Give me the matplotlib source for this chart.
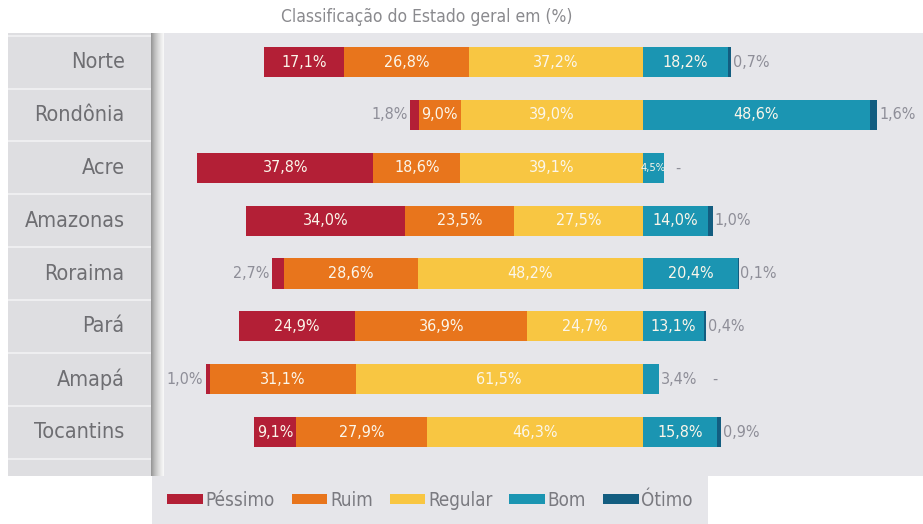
import numpy as np
import matplotlib.pyplot as plt
from matplotlib.patches import Patch, Rectangle

regioes = ['Norte', 'Rondônia', 'Acre', 'Amazonas', 'Roraima', 'Pará', 'Amapá', 'Tocantins']
pessimo = [17.1, 1.8, 37.8, 34.0, 2.7, 24.9, 1.0, 9.1]
ruim = [26.8, 9.0, 18.6, 23.5, 28.6, 36.9, 31.1, 27.9]
regular = [37.2, 39.0, 39.1, 27.5, 48.2, 24.7, 61.5, 46.3]
bom = [18.2, 48.6, 4.5, 14.0, 20.4, 13.1, 3.4, 15.8]
otimo = [0.7, 1.6, 0.0, 1.0, 0.1, 0.4, 0.0, 0.9]

categorias = ['Péssimo', 'Ruim', 'Regular', 'Bom', 'Ótimo']
cores = ['#b31f36', '#e8751c', '#f8c642', '#1b95b2', '#135d80']

FONTE = ['Liberation Sans Narrow', 'DejaVu Sans']
plt.rcParams['font.family'] = FONTE
plt.rcParams['font.stretch'] = 'condensed'

W, H = 923, 524


def caixa(x0, y0, x1, y1):  # pixels -> fracao da figura
    return [x0 / W, 1 - y1 / H, (x1 - x0) / W, (y1 - y0) / H]


def fmt(v):
    return ('%.1f%%' % v).replace('.', ',')


fig = plt.figure(figsize=(W / 100, H / 100), dpi=100)
fig.patch.set_facecolor('white')

# fundos
for (x0, y0, x1, y1, c) in [(155, 33, 923, 476, '#e6e6ea'),
                            (8, 33, 152, 476, '#dedee1'),
                            (152, 476, 708, 524, '#e6e6ea')]:
    b = caixa(x0, y0, x1, y1)
    fig.patches.append(Rectangle((b[0], b[1]), b[2], b[3], transform=fig.transFigure,
                                 facecolor=c, edgecolor='none', zorder=-5))

y = np.arange(len(regioes))
ylim = (7.83, -0.55)

# painel dos nomes
ax_lab = fig.add_axes(caixa(8, 33, 152, 476))
ax_lab.set_axis_off()
ax_lab.set_xlim(0, 1)
ax_lab.set_ylim(*ylim)
for i in range(len(regioes) + 1):
    ax_lab.axhline(i - 0.5, color='#eeeef0', lw=1.5)
for i, nome in enumerate(regioes):
    ax_lab.text(0.81, i, nome, ha='right', va='center', fontsize=15.5, color='#6e6e72')

# sombra vertical
ax_s = fig.add_axes(caixa(151, 33, 164, 476))
ax_s.set_axis_off()
grad = np.linspace(0, 1, 50).reshape(1, -1)
ax_s.imshow(grad, aspect='auto', cmap='Greys_r', vmin=-1.1, vmax=1.12,
            extent=(0, 1, 0, 1))

# barras
ax = fig.add_axes(caixa(160, 33, 923, 476))
ax.set_axis_off()
ax.set_xlim(-103.4, 60)
ax.set_ylim(*ylim)

reg = np.array(regular)
rui = np.array(ruim)
pes = np.array(pessimo)
bo = np.array(bom)
ot = np.array(otimo)

lefts = [-(reg + rui + pes), -(reg + rui), -reg, np.zeros(len(y)), bo]
vals = [pes, rui, reg, bo, ot]
h = 0.57
for k in range(5):
    ax.barh(y, vals[k], left=lefts[k], height=h, color=cores[k], edgecolor='none')

branco = '#fbf6ea'
cinza = '#8e8e98'
fs = 11.5
for i in y:
    # pessimo
    if pes[i] < 5:
        ax.text(lefts[0][i] - 0.5, i, fmt(pes[i]), ha='right', va='center',
                fontsize=fs, color=cinza)
    else:
        ax.text(lefts[0][i] + pes[i] / 2, i, fmt(pes[i]), ha='center', va='center',
                fontsize=fs, color=branco)
    ax.text(lefts[1][i] + rui[i] / 2, i, fmt(rui[i]), ha='center', va='center',
            fontsize=fs, color=branco)
    ax.text(lefts[2][i] + reg[i] / 2, i, fmt(reg[i]), ha='center', va='center',
            fontsize=fs, color=branco)
    # bom
    fim = bo[i] + ot[i]
    if bo[i] < 4:
        ax.text(fim + 0.5, i, fmt(bo[i]), ha='left', va='center', fontsize=fs, color=cinza)
        fim = fim + 9
    else:
        ax.text(bo[i] / 2, i, fmt(bo[i]), ha='center', va='center',
                fontsize=fs if bo[i] > 6 else 8, color=branco)
    # otimo
    if ot[i] > 0:
        ax.text(fim + 0.4, i, fmt(ot[i]), ha='left', va='center', fontsize=fs, color=cinza)
    else:
        ax.text(fim + 2.5, i, '-', ha='left', va='center', fontsize=fs, color=cinza)

fig.text(427 / W, 1 - 17 / H, 'Classificação do Estado geral em (%)', ha='center',
         va='center', fontsize=12.5, color='#8a8a8e')

alcas = [Patch(facecolor=c, edgecolor='none', label=l) for c, l in zip(cores, categorias)]
fig.legend(handles=alcas, loc='center', bbox_to_anchor=(430 / W, 1 - 500 / H), ncol=5,
           frameon=False, handlelength=1.9, handleheight=0.45, handletextpad=0.15,
           columnspacing=0.9, fontsize=13.5, labelcolor='#7a7a80')

fig.savefig('out.png', dpi=100)
